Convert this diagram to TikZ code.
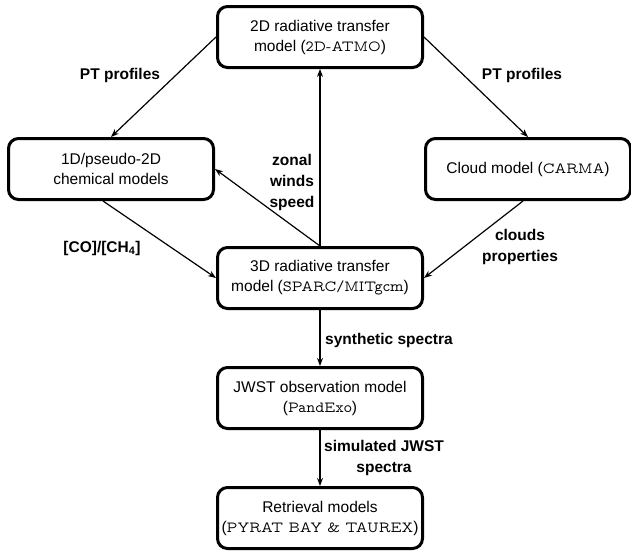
\documentclass[tikz,border=0pt]{standalone}
\usepackage{fontspec}
\setmainfont{Liberation Sans}
\usetikzlibrary{arrows.meta}
\newcommand\cfont[1]{{\fontfamily{lmvtt}\selectfont #1}}
\begin{document}
\begin{tikzpicture}[x=1pt,y=-1pt,
  box/.style={draw, line width=3pt, rounded corners=10pt, minimum width=205pt, minimum height=61pt, align=center, inner sep=2pt, font=\fontsize{15.5}{20}\selectfont},
  arr/.style={line width=1.2pt, -{Stealth[length=8pt,width=6pt]}},
  lab/.style={font=\fontsize{15.5}{21}\selectfont\bfseries, align=center, inner sep=1pt}]
\useasboundingbox (0,0) rectangle (631,550);
\node[box] (top) at (320,37) {2D radiative transfer\\model (\cfont{2D-ATMO})};
\node[box] (chem) at (111,169) {1D/pseudo-2D\\chemical models};
\node[box] (cloud) at (528,169) {Cloud model (\cfont{CARMA})};
\node[box] (rt) at (320,278) {3D radiative transfer\\model (\cfont{SPARC/MITgcm})};
\node[box] (jwst) at (320,398) {JWST observation model\\(\cfont{PandExo})};
\node[box] (ret) at (320,518) {Retrieval models\\(\cfont{PYRAT BAY \& TAUREX})};
\draw[arr] (top.west) -- (chem.north);
\draw[arr] (top.east) -- (cloud.north);
\draw[arr] (rt.north) -- (top.south);
\draw[arr] (rt.north) -- (chem.east);
\draw[arr] ([xshift=-8pt]chem.south) -- (rt.west);
\draw[arr] ([xshift=-5pt]cloud.south) -- (rt.east);
\draw[arr] (rt.south) -- (jwst.north);
\draw[arr] (jwst.south) -- (ret.north);
\node[lab] (l1) at (120,75) {PT profiles};
\node[lab] (l2) at (522,75) {PT profiles};
\node[lab] (l3) at (292,182) {zonal\\winds\\speed};
\node[lab] (l4) at (102,248) {[CO]/[CH\textsubscript{4}]};
\node[lab] (l5) at (520,247) {clouds\\properties};
\node[lab, anchor=west] (l6) at (324,340) {synthetic spectra};
\node[lab] (l7) at (384,458) {simulated JWST\\spectra};
\end{tikzpicture}
\end{document}
